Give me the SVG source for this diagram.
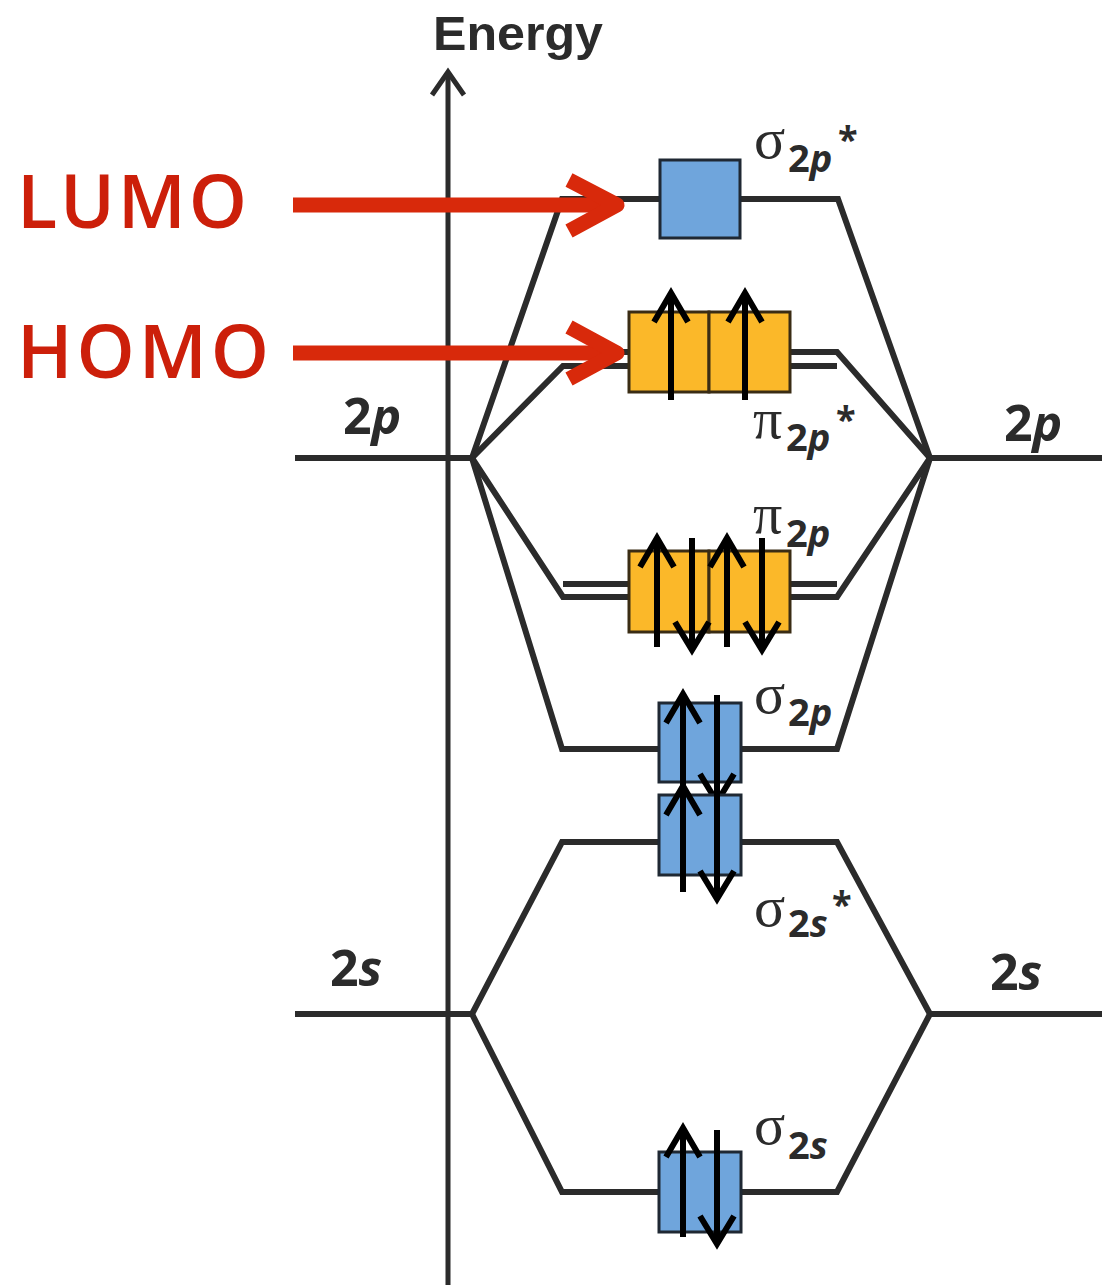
<svg xmlns="http://www.w3.org/2000/svg" width="1102" height="1285" viewBox="0 0 1102 1285">
<style>
.lv{fill:none;stroke:#2b2b2b;stroke-width:6;stroke-linejoin:miter}
.ax{fill:none;stroke:#2b2b2b;stroke-width:5}
.bl{fill:#6fa5dc;stroke:#1f2833;stroke-width:3}
.or{fill:#fbb829;stroke:#3a2c14;stroke-width:3}
.e{fill:none;stroke:#000;stroke-width:6;stroke-linejoin:miter}
.ra{fill:none;stroke:#d8290b;stroke-width:15;stroke-linejoin:round}
.gr{font-family:"Liberation Serif",serif;font-size:58px;fill:#2b2b2b}
.sb{font-family:"Open Sans","Liberation Sans",sans-serif;font-weight:700;font-size:38px;fill:#2b2b2b}
.st{font-family:"Open Sans","Liberation Sans",sans-serif;font-weight:700;font-size:36px;fill:#2b2b2b}
.big{font-family:"Open Sans","Liberation Sans",sans-serif;font-weight:700;font-size:50px;fill:#2b2b2b}
.en{font-family:"Liberation Sans",sans-serif;font-weight:700;font-size:48px;fill:#2b2b2b}
.it{font-style:italic}
.red{font-family:"Open Sans","Liberation Sans",sans-serif;font-weight:600;font-size:74px;fill:#cc1f0a}
</style>
<rect width="1102" height="1285" fill="#fff"/>
<g id="axis">
<path class="ax" d="M448 1285 V72"/>
<polyline class="ax" points="432,95 448,72 464,95"/>
<text x="433" y="50" class="en" textLength="170" lengthAdjust="spacingAndGlyphs">Energy</text>
</g>
<g id="connectors">
<path class="lv" d="M295 458 H472"/>
<path class="lv" d="M930 458 H1102"/>
<path class="lv" d="M295 1014 H472"/>
<path class="lv" d="M930 1014 H1102"/>
<path class="lv" d="M472 458 L562 199 H838 L930 458"/>
<path class="lv" d="M563 352 H837 L930 458"/>
<path class="lv" d="M472 458 L563 366 H837"/>
<path class="lv" d="M563 584 H837"/>
<path class="lv" d="M472 458 L563 597 H837 L930 458"/>
<path class="lv" d="M472 458 L562 749 H837 L930 458"/>
<path class="lv" d="M472 1014 L562 842 H837 L930 1014"/>
<path class="lv" d="M472 1014 L562 1192 H837 L930 1014"/>
</g>
<g id="atomic-2p-left"><text x="343" y="434" class="big">2<tspan class="it">p</tspan></text></g>
<g id="atomic-2p-right"><text x="1004" y="441" class="big">2<tspan class="it">p</tspan></text></g>
<g id="atomic-2s-left"><text x="330" y="986" class="big">2<tspan class="it">s</tspan></text></g>
<g id="atomic-2s-right"><text x="990" y="990" class="big">2<tspan class="it">s</tspan></text></g>
<g id="sigma2p-star">
<rect class="bl" x="660" y="160" width="80" height="78"/>
<text x="754" y="158" class="gr">σ</text>
<text x="788" y="172" class="sb">2<tspan class="it">p</tspan></text>
<text x="838" y="152" class="st">*</text>
</g>
<g id="pi2p-star">
<rect class="or" x="629" y="312" width="80" height="80"/>
<rect class="or" x="709" y="312" width="81" height="80"/>
<path class="e" d="M671 400 V293 M654 322 L671 293 L688 322"/>
<path class="e" d="M745 400 V293 M728 322 L745 293 L762 322"/>
<text x="753" y="438" class="gr">π</text>
<text x="786" y="451" class="sb">2<tspan class="it">p</tspan></text>
<text x="836" y="432" class="st">*</text>
</g>
<g id="pi2p">
<rect class="or" x="629" y="551" width="80" height="81"/>
<rect class="or" x="709" y="551" width="81" height="81"/>
<path class="e" d="M657 647 V538 M640 567 L657 538 L674 567"/>
<path class="e" d="M692 538 V650 M675 622 L692 650 L709 622"/>
<path class="e" d="M727 647 V538 M710 567 L727 538 L744 567"/>
<path class="e" d="M762 538 V650 M745 622 L762 650 L779 622"/>
<text x="753" y="533" class="gr">π</text>
<text x="786" y="547" class="sb">2<tspan class="it">p</tspan></text>
</g>
<g id="sigma2p">
<rect class="bl" x="659" y="703" width="82" height="79"/>
<path class="e" d="M683 800 V694 M666 723 L683 694 L700 723"/>
<path class="e" d="M717 695 V802 M700 774 L717 802 L734 774"/>
<text x="754" y="713" class="gr">σ</text>
<text x="788" y="726" class="sb">2<tspan class="it">p</tspan></text>
</g>
<g id="sigma2s-star">
<rect class="bl" x="659" y="795" width="82" height="80"/>
<path class="e" d="M683 892 V786 M666 815 L683 786 L700 815"/>
<path class="e" d="M717 790 V899 M700 871 L717 899 L734 871"/>
<text x="754" y="926" class="gr">σ</text>
<text x="788" y="937" class="sb">2<tspan class="it">s</tspan></text>
<text x="832" y="917" class="st">*</text>
</g>
<g id="sigma2s">
<rect class="bl" x="659" y="1152" width="82" height="80"/>
<path class="e" d="M683 1237 V1128 M666 1157 L683 1128 L700 1157"/>
<path class="e" d="M717 1130 V1244 M700 1216 L717 1244 L734 1216"/>
<text x="754" y="1144" class="gr">σ</text>
<text x="788" y="1159" class="sb">2<tspan class="it">s</tspan></text>
</g>
<g id="lumo">
<text x="17" y="228" class="red" textLength="230" lengthAdjust="spacing">LUMO</text>
<path class="ra" d="M293 205 H617"/>
<polyline class="ra" points="569,180 617,205 569,231"/>
</g>
<g id="homo">
<text x="17" y="378" class="red" textLength="252" lengthAdjust="spacing">HOMO</text>
<path class="ra" d="M293 353 H617"/>
<polyline class="ra" points="569,327 617,353 569,379"/>
</g>
</svg>
